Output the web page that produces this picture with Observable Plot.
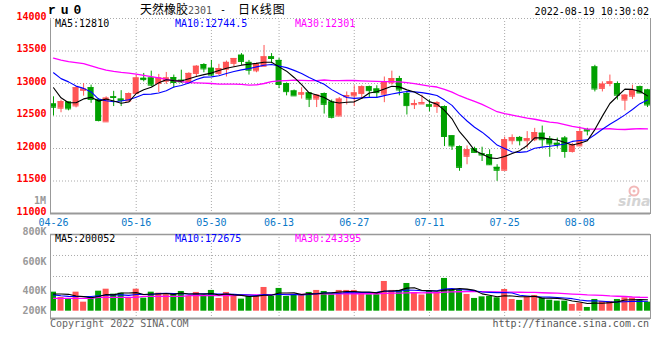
<!DOCTYPE html>
<html><head><meta charset="utf-8">
<script src="https://cdn.jsdelivr.net/npm/d3@7"></script>
<script src="https://cdn.jsdelivr.net/npm/@observablehq/plot@0.6"></script>
<style>
body{margin:0;background:#fff;}
#wrap{position:relative;width:660px;height:360px;overflow:hidden;background:#fff;font-family:'DejaVu Sans Mono',monospace;font-size:10px;}
.t{position:absolute;white-space:pre;line-height:10px;font-family:'DejaVu Sans Mono',monospace;font-size:10px;}
.pane{position:absolute;left:0;}
</style></head><body><div id="wrap"></div>
<script>
const dates = ["04-26","04-27","04-28","04-29","05-05","05-06","05-09","05-10","05-11","05-12","05-13","05-16","05-17","05-18","05-19","05-20","05-23","05-24","05-25","05-26","05-27","05-30","05-31","06-01","06-02","06-06","06-07","06-08","06-09","06-10","06-13","06-14","06-15","06-16","06-17","06-20","06-21","06-22","06-23","06-24","06-27","06-28","06-29","06-30","07-01","07-04","07-05","07-06","07-07","07-08","07-11","07-12","07-13","07-14","07-15","07-18","07-19","07-20","07-21","07-22","07-25","07-26","07-27","07-28","07-29","08-01","08-02","08-03","08-04","08-05","08-08","08-09","08-10","08-11","08-12","08-15","08-16","08-17","08-18","08-19"];
const open  = [12685,12620,12715,12655,12895,12935,12755,12410,12795,12760,12730,12845,13080,13085,13000,13035,13090,13050,13015,13155,13290,13235,13155,13220,13310,13435,13325,13195,13265,13410,13355,13000,12885,12835,12855,12760,12845,12715,12500,12795,12810,12845,12950,12915,12835,13010,13075,12845,12675,12685,12670,12645,12645,12195,12030,11880,11995,11920,11905,11710,11665,12120,12170,12120,12135,12235,12145,12080,12160,11955,12040,12285,13255,12925,13000,13000,12745,12805,12950,12900];
const high  = [12795,12745,12715,12950,13000,12975,12770,12795,12880,12890,12855,13130,13155,13190,13140,13170,13130,13205,13165,13275,13305,13355,13295,13345,13385,13460,13355,13315,13585,13460,13385,13010,12900,12935,12860,12830,12855,12745,12785,12870,12965,12965,12960,12965,13100,13190,13110,12870,12745,12820,12745,12720,12655,12195,12040,12040,12020,12020,11980,11750,12175,12210,12185,12260,12310,12345,12185,12160,12185,12080,12325,12310,13280,13025,13130,13025,12830,12975,12960,12910];
const low   = [12500,12550,12580,12625,12805,12695,12410,12410,12645,12645,12720,12845,13025,12950,12860,12985,12925,13000,13010,13100,13165,13110,13120,13100,13255,13280,13130,13165,13255,13305,12920,12810,12810,12760,12630,12630,12530,12455,12500,12670,12645,12755,12785,12770,12705,12975,12810,12515,12600,12685,12565,12540,12030,11970,11650,11750,11930,11800,11740,11495,11665,12055,12040,12005,12105,12020,11865,12005,11850,11930,12030,12195,12870,12870,12950,12745,12580,12755,12845,12630];
const close = [12635,12720,12610,12935,12915,12755,12430,12775,12785,12740,12845,13085,13060,12975,13085,13085,13015,13025,13155,13265,13225,13130,13230,13325,13385,13340,13205,13295,13410,13385,12985,12875,12810,12855,12760,12820,12680,12480,12760,12815,12855,12950,12890,12860,13015,13075,12900,12660,12690,12705,12650,12705,12185,12040,11710,11980,11940,11900,11750,11665,12135,12165,12120,12150,12245,12135,12070,12060,11955,12055,12260,12270,12915,12990,13025,12820,12820,12890,12855,12670];
const ma5   = [12935,12780,12705,12705,12763,12787,12729,12762,12732,12697,12715,12846,12903,12941,13010,13058,13044,13037,13073,13109,13137,13160,13201,13235,13259,13282,13297,13310,13327,13327,13256,13190,13093,12982,12857,12824,12785,12719,12700,12711,12718,12772,12854,12874,12914,12958,12948,12902,12868,12806,12721,12682,12587,12457,12258,12124,11971,11914,11856,11847,11878,11923,11967,12047,12163,12163,12144,12132,12093,12055,12080,12120,12291,12498,12692,12804,12914,12909,12882,12810];
const ma10  = [13165,13075,13025,12960,12925,12870,12760,12735,12720,12730,12751,12788,12833,12837,12854,12887,12945,12970,13007,13060,13098,13102,13119,13154,13184,13210,13229,13256,13281,13293,13269,13244,13202,13155,13092,13040,12988,12906,12841,12784,12771,12779,12787,12787,12813,12838,12860,12878,12871,12860,12840,12815,12745,12663,12532,12423,12327,12251,12157,12053,12001,11947,11941,11952,12005,12021,12034,12050,12070,12109,12122,12132,12212,12296,12374,12442,12517,12600,12690,12744.5];
const ma30  = [13390,13360,13335,13320,13305,13270,13235,13205,13185,13170,13160,13145,13125,13105,13085,13065,13045,13030,13015,13010,13005,13000,12990,12990,12990,12985,12975,12980,13000,13028,13039,13044,13051,13048,13043,13045,13054,13044,13043,13046,13046,13041,13036,13032,13030,13029,13025,13013,12998,12979,12960,12946,12911,12868,12812,12767,12725,12678,12623,12566,12537,12514,12490,12467,12450,12427,12407,12393,12366,12340,12321,12298,12299,12303,12304,12295,12292,12300,12306,12301];
const volume = [333000,240000,211000,333000,158000,240000,350000,385000,298000,315000,240000,385000,228000,333000,315000,288000,304000,345000,258000,328000,258000,363000,223000,328000,258000,211000,258000,258000,415000,258000,398000,258000,275000,275000,328000,363000,345000,288000,363000,363000,363000,301000,288000,288000,520000,363000,363000,485000,323000,283000,345000,315000,573000,374000,374000,293000,223000,251000,258000,234000,380000,205000,188000,251000,275000,228000,193000,176000,176000,118000,141000,65000,205000,170000,170000,205000,234000,228000,188000,158000];
const volMa5 = [300000,300000,295000,265000,255000,236000,258000,293000,286000,318000,318000,325000,293000,300000,300000,310000,294000,317000,302000,305000,299000,310000,286000,300000,286000,277000,256000,263000,280000,280000,317000,317000,321000,293000,307000,300000,317000,320000,337000,344000,344000,336000,336000,321000,352000,352000,364000,404000,411000,363000,360000,350000,368000,378000,396000,386000,367000,303000,280000,252000,269000,266000,253000,252000,260000,229000,227000,225000,210000,178000,161000,135000,141000,140000,150000,163000,197000,201000,205000,200052];
const volMa10 = [285000,270000,260000,258000,258000,258000,270000,280000,285000,286000,277000,292000,293000,293000,309000,314000,309000,305000,301000,302000,304000,302000,302000,301000,295000,288000,283000,274000,290000,283000,297000,287000,292000,286000,293000,309000,317000,320000,315000,326000,322000,326000,328000,329000,348000,348000,350000,370000,366000,358000,356000,357000,386000,394000,380000,373000,359000,335000,329000,324000,328000,317000,278000,266000,256000,249000,246000,239000,231000,219000,195000,181000,183000,175000,164000,162000,166000,171000,172000,172675];
const volMa30 = [225000,225000,225000,225000,225000,225000,240000,240000,240000,240000,240000,240000,258000,258000,258000,258000,258000,258000,272000,272000,272000,272000,272000,272000,272000,285000,285000,285000,285000,291000,293000,293000,295000,294000,299000,303000,303000,300000,302000,304000,308000,305000,307000,305000,312000,315000,317000,321000,324000,322000,325000,323000,335000,337000,340000,343000,342000,342000,337000,336000,335000,333000,331000,330000,328000,323000,318000,315000,308000,300000,293000,285000,282000,278000,267000,261000,257000,248000,244000,243395];
const xTicks = ["04-26","05-16","05-30","06-13","06-27","07-11","07-25","08-08"];
const priceTicks = [11000,11500,12000,12500,13000,13500,14000];
const volTickLabels = ["800K","600K","400K","200K"];
const volTickValues = [1397000,870000,362000,12000];
const volGridValues = [975000,607000];

const UP = "#ff5555", DOWN = "#00a000";
const rows = dates.map((date,i)=>({date, open:open[i], high:high[i], low:low[i], close:close[i],
  color: close[i] >= open[i] ? UP : DOWN, ma5:ma5[i], ma10:ma10[i], ma30:ma30[i],
  vol:volume[i], vma5:volMa5[i], vma10:volMa10[i], vma30:volMa30[i]}));

const xScale = {type:"band", domain:dates, paddingInner:0.2, paddingOuter:0, align:0.5, axis:null};
const dotted = {stroke:"#aaa", strokeDasharray:"1,2"};
const font = {fontFamily:"'DejaVu Sans Mono', monospace", fontSize:"10px", background:"transparent", overflow:"visible"};

const p1 = Plot.plot({
  width:660, height:230, marginLeft:50, marginRight:10, marginTop:18, marginBottom:17,
  style:font, x:xScale, y:{domain:[11000,14000], axis:null},
  marks:[
    Plot.ruleY(priceTicks.slice(1,-1), dotted),
    Plot.ruleX(xTicks.slice(1), dotted),
    Plot.ruleX(rows, {x:"date", y1:"low", y2:"high", stroke:"color"}),
    Plot.barY(rows, {x:"date", y1:"open", y2:"close", fill:"color"}),
    Plot.tickY(rows, {x:"date", y:"open", stroke:"color"}),
    Plot.tickY(rows, {x:"date", y:"close", stroke:"color"}),
    Plot.line(rows, {x:"date", y:"ma30", stroke:"#ff00ff", strokeWidth:1.3}),
    Plot.line(rows, {x:"date", y:"ma10", stroke:"#0000ff", strokeWidth:1.1}),
    Plot.line(rows, {x:"date", y:"ma5", stroke:"#000000", strokeWidth:1.1}),
    Plot.frame({stroke:"#999"}),
    Plot.ruleY([14000], {stroke:"#fff", strokeWidth:1.5}),
    Plot.ruleY([14000], dotted),
    Plot.ruleY([11000], {stroke:"#999", strokeWidth:2}),
    Plot.axisY(priceTicks, {label:null, tickSize:0, tickPadding:4, fill:"#ff0000", fontWeight:"bold", dy:-2, tickFormat:d=>String(d)}),
    Plot.axisX(xTicks, {label:null, tickSize:0, tickPadding:5, fill:"#0a78c8"})
  ]
});

const volLabelOf = new Map(volTickValues.map((v,i)=>[v, volTickLabels[i]]));
const p2 = Plot.plot({
  width:660, height:100, marginLeft:50, marginRight:10, marginTop:12, marginBottom:4,
  style:font, x:xScale, y:{domain:[-128000,1342000], axis:null},
  marks:[
    Plot.ruleY(volGridValues, dotted),
    Plot.ruleX(xTicks.slice(1), dotted),
    Plot.barY(rows, {x:"date", y:"vol", fill:"color"}),
    Plot.line(rows, {x:"date", y:"vma30", stroke:"#ff00ff", strokeWidth:1.3}),
    Plot.line(rows, {x:"date", y:"vma10", stroke:"#0000ff", strokeWidth:1.1}),
    Plot.line(rows, {x:"date", y:"vma5", stroke:"#000000", strokeWidth:1.1}),
    Plot.frame({stroke:"#999"}),
    Plot.ruleY([-128000], {stroke:"#999", strokeWidth:2}),
    Plot.ruleY([1342000], {stroke:"#999", strokeWidth:1.5}),
    Plot.axisY(volTickValues, {label:null, tickSize:0, tickPadding:4, fill:"#999", fontWeight:"bold", tickFormat:d=>volLabelOf.get(d)})
  ]
});

const wrap = document.getElementById("wrap");
function pane(el, top){ const d=document.createElement("div"); d.className="pane"; d.style.top=top+"px"; d.appendChild(el); wrap.appendChild(d); }
pane(p1, 0); pane(p2, 222);

function txt(s, css){ const d=document.createElement("div"); d.className="t"; d.textContent=s; Object.assign(d.style, css); wrap.appendChild(d); return d; }
txt("r u 0", {left:"48px", top:"4px", fontFamily:"'Liberation Mono', monospace", fontWeight:"bold", fontSize:"13px", lineHeight:"13px", letterSpacing:"-1.4px", color:"#000"});
txt("天然橡胶", {left:"140px", top:"3px", fontFamily:"'Noto Sans CJK SC', sans-serif", fontSize:"12px", lineHeight:"12px", color:"#000"});
txt("2301", {left:"188px", top:"6px", color:"#555"});
txt("-", {left:"220px", top:"5px", color:"#000"});
txt("日K线图", {left:"238px", top:"3px", fontFamily:"'Noto Sans CJK SC', sans-serif", fontSize:"12px", lineHeight:"12px", letterSpacing:"1px", color:"#000"});
txt("2022-08-19 10:30:02", {right:"11px", top:"7px", color:"#000"});
txt("MA5:12810", {left:"55px", top:"19px", color:"#000"});
txt("MA10:12744.5", {left:"175px", top:"19px", color:"#0000ff"});
txt("MA30:12301", {left:"295px", top:"19px", color:"#ff00ff"});
txt("1M", {right:"614px", top:"196px", color:"#999", fontWeight:"bold"});
txt("MA5:200052", {left:"55px", top:"234px", color:"#000"});
txt("MA10:172675", {left:"175px", top:"234px", color:"#0000ff"});
txt("MA30:243395", {left:"295px", top:"234px", color:"#ff00ff"});
txt("Copyright 2022 SINA.COM", {left:"50px", top:"319px", color:"#666"});
txt("http://finance.sina.com.cn", {right:"11px", top:"319px", color:"#555"});
const ns="http://www.w3.org/2000/svg";
const wm=document.createElementNS(ns,"svg"); wm.setAttribute("width","40"); wm.setAttribute("height","26");
wm.style.position="absolute"; wm.style.left="614px"; wm.style.top="184px";
wm.innerHTML='<circle cx="20" cy="7" r="4.5" fill="none" stroke="#f2b8b8" stroke-width="2"/><circle cx="20" cy="7" r="1.5" fill="#f2b8b8"/><text x="4" y="22" font-family="DejaVu Sans" font-style="italic" font-weight="bold" font-size="14" fill="#d4d4d4">sina</text>';
wrap.appendChild(wm);
</script></body></html>
